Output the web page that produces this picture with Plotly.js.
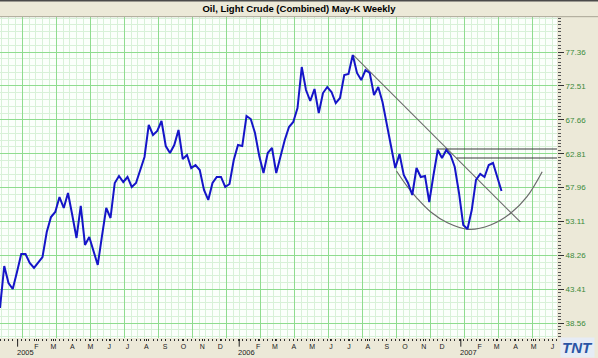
<!DOCTYPE html>
<html>
<head>
<meta charset="utf-8">
<script src="https://cdn.plot.ly/plotly-3.0.1.min.js"></script>
<style>
  html, body { margin: 0; padding: 0; background: #ECE9D8; }
  #chart { width: 598px; height: 358px; }
</style>
</head>
<body>
<div id="chart"></div>
<script>
// ---------------- data ----------------
const chartTitle = 'Oil, Light Crude (Combined) May-K Weekly';
const firstWeek = '2004-12-03';            // date of the first weekly close
const weeklyClose = [
  40.73, 46.74, 44.31, 43.45, 45.88, 48.46, 48.46, 47.17, 46.46, 47.17,
  48.03, 51.61, 53.75, 54.47, 56.61, 55.04, 57.19, 54.04, 50.75, 55.33,
  49.75, 50.89, 48.89, 46.89, 51.04, 55.04, 53.61, 58.62, 59.62, 58.76,
  59.48, 58.05, 58.62, 60.33, 62.34, 66.92, 65.49, 66.06, 67.49, 63.91,
  62.91, 64.05, 66.20, 62.05, 62.62, 60.76, 61.19, 60.48, 57.62, 56.19,
  58.62, 59.48, 59.48, 58.05, 58.47, 61.91, 64.05, 63.91, 68.20, 67.77,
  65.77, 62.48, 60.05, 62.91, 63.63, 60.05, 62.62, 64.77, 66.63, 67.35,
  69.35, 75.21, 71.92, 70.35, 72.07, 68.63, 71.49, 72.35, 71.64, 70.06,
  70.78, 74.07, 74.21, 76.93, 74.36, 73.35, 74.78, 74.36, 71.21, 72.35,
  70.21, 67.20, 64.05, 60.76, 62.77, 59.76, 58.62, 56.90, 60.76, 59.48,
  59.62, 55.90, 59.76, 63.34, 62.19, 63.34, 62.62, 60.91, 57.19, 52.61,
  52.04, 54.75, 59.05, 59.91, 59.48, 61.19, 61.48, 59.48, 57.47
];
const priceTicks    = [38.56, 43.41, 48.26, 53.11, 57.96, 62.81, 67.66, 72.51, 77.36];
const priceTickText = ['38.56', '43.41', '48.26', '53.11', '57.96', '62.81', '67.66', '72.51', '77.36'];
const monthLetters  = ['', 'F', 'M', 'A', 'M', 'J', 'J', 'A', 'S', 'O', 'N', 'D'];  // January = year-separator mark
const yearLabels    = [2005, 2006, 2007];
const lastMonthTick = '2007-06-01';

// drawn study lines
const trendDates   = ['2006-07-08', '2007-04-09'];
const trendValues  = [76.93, 53.04];
const resistStart  = ['2006-11-22', '2006-12-25'];
const resistValues = [63.48, 62.19];
const arcDates  = ['2006-09-17', '2006-10-05', '2006-10-21', '2006-11-12', '2006-12-10',
                   '2007-01-14', '2007-02-19', '2007-03-24', '2007-04-20', '2007-05-15'];
const arcValues = [60.33, 58.09, 56.43, 54.51, 52.94, 51.99, 52.61, 54.28, 56.66, 60.23];

// ---------------- build ----------------
const WEEK = 7 * 864e5;
const xRange = ['2004-12-03', '2007-06-08 10:00'];
const yRange = [36.44, 82.37];

function addDays(iso, n) {
  const d = new Date(iso + 'T00:00:00Z');
  d.setUTCDate(d.getUTCDate() + n);
  return d.toISOString().slice(0, 10);
}
const weekDates = weeklyClose.map((_, i) => addDays(firstWeek, 7 * i));

const monthTicks = [], monthText = [];
yearLabels.forEach(y => {
  monthLetters.forEach((l, m) => {
    const d = y + '-' + String(m + 1).padStart(2, '0') + '-01';
    if (d <= lastMonthTick) { monthTicks.push(d); monthText.push(l); }
  });
});

const traces = [
  { x: xRange, y: [null, null], xaxis: 'x2', yaxis: 'y2', mode: 'lines', hoverinfo: 'skip', showlegend: false },
  { x: arcDates, y: arcValues, mode: 'lines', line: { color: '#6A6A6A', width: 1.2, shape: 'spline', smoothing: 1 }, hoverinfo: 'skip' },
  { x: trendDates, y: trendValues, mode: 'lines', line: { color: '#6A6A6A', width: 1.1 }, hoverinfo: 'skip' },
  { x: [resistStart[0], xRange[1]], y: [resistValues[0], resistValues[0]], mode: 'lines', line: { color: '#3A3A3A', width: 1.1 }, hoverinfo: 'skip' },
  { x: [resistStart[1], xRange[1]], y: [resistValues[1], resistValues[1]], mode: 'lines', line: { color: '#3A3A3A', width: 1.1 }, hoverinfo: 'skip' },
  { x: weekDates, y: weeklyClose, mode: 'lines', line: { color: '#1515C8', width: 2 }, name: 'Close' }
];

const font = 'Liberation Sans, Arial, sans-serif';
const annotations = yearLabels.map(y => ({
  x: y + '-01-01', xref: 'x', y: -0.029, yref: 'paper',
  xanchor: 'left', yanchor: 'top', xshift: -2, showarrow: false, borderpad: 0,
  text: String(y), font: { family: font, size: 7.5, color: '#222' }
}));
annotations.push({
  x: 1.0375, xref: 'paper', y: -0.031, yref: 'paper', xanchor: 'center', yanchor: 'middle',
  showarrow: false, text: '<b><i>TNT</i></b>', bgcolor: '#E6ECF5', borderpad: 1,
  font: { family: font, size: 15, color: '#2A55A5' }
});

const yearMarks = yearLabels.map(y => ({
  type: 'line', xref: 'x', yref: 'paper', x0: y + '-01-01', x1: y + '-01-01',
  y0: -0.003, y1: -0.027, line: { color: '#222', width: 1 }
}));

const layout = {
  width: 598, height: 358,
  margin: { l: 0, r: 41, t: 17, b: 20, pad: 0 },
  paper_bgcolor: '#ECE9D8', plot_bgcolor: '#FBFFFB',
  showlegend: false,
  title: {
    text: chartTitle, x: 0.5, xref: 'container', xanchor: 'center',
    y: 1 - 9 / 358, yref: 'container', yanchor: 'middle',
    font: { family: font, size: 9.5, color: '#000', weight: 'bold' }
  },
  xaxis: {
    type: 'date', range: xRange, showticklabels: false, ticks: '',
    tickmode: 'linear', tick0: '2005-01-08 17:00', dtick: 8 * WEEK,
    showgrid: true, gridcolor: '#8FDC8F', gridwidth: 1, zeroline: false, showline: false,
    minor: { tickmode: 'linear', tick0: '2005-01-08 17:00', dtick: 8 * WEEK / 5, showgrid: true, gridcolor: '#D8F1D8', ticks: '' }
  },
  xaxis2: {
    type: 'date', overlaying: 'x', anchor: 'y', side: 'bottom', range: xRange,
    showgrid: false, zeroline: false, showline: false,
    tickmode: 'array', tickvals: monthTicks, ticktext: monthText,
    ticks: 'outside', ticklen: 2, tickcolor: '#222', tickwidth: 1,
    tickfont: { family: font, size: 7, color: '#222' },
    minor: { tickmode: 'linear', tick0: firstWeek, dtick: WEEK, ticks: 'outside', ticklen: 1.5, tickcolor: '#333', showgrid: false }
  },
  yaxis: {
    side: 'right', range: yRange, tickmode: 'array', tickvals: priceTicks,
    showticklabels: false, ticks: '', showgrid: true, gridcolor: '#8FDC8F', gridwidth: 1,
    zeroline: false, showline: false,
    minor: { tickmode: 'linear', tick0: 38.56, dtick: 0.97, showgrid: true, gridcolor: '#D8F1D8', ticks: '' }
  },
  yaxis2: {
    overlaying: 'y', side: 'right', anchor: 'x', range: yRange,
    tickmode: 'array', tickvals: priceTicks, ticktext: priceTickText,
    ticks: 'outside', ticklen: 6, tickcolor: '#333', tickwidth: 1,
    tickfont: { family: font, size: 8, color: '#3A8A3A' },
    showgrid: false, zeroline: false, showline: false,
    minor: { tickmode: 'linear', tick0: 38.56, dtick: 0.485, ticks: 'outside', ticklen: 3, tickcolor: '#555', showgrid: false }
  },
  annotations: annotations,
  shapes: [
    { type: 'line', xref: 'paper', yref: 'paper', x0: 0, x1: 598 / 557, y0: 1 + 16.6 / 321, y1: 1 + 16.6 / 321, line: { color: '#4A4A4A', width: 2 } },
    { type: 'line', xref: 'paper', yref: 'paper', x0: 0, x1: 598 / 557, y0: 1.001, y1: 1.001, line: { color: '#A8A595', width: 1 } }
  ].concat(yearMarks)
};

Plotly.newPlot('chart', traces, layout, { displayModeBar: false, staticPlot: true });
</script>
</body>
</html>
